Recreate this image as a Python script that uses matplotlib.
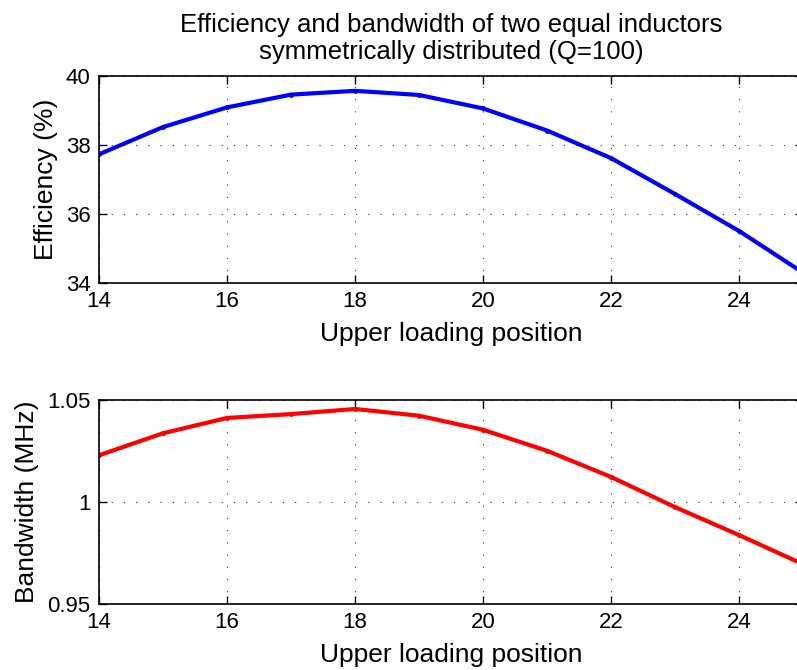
import matplotlib
matplotlib.use("Agg")
import matplotlib.pyplot as plt

plt.rcParams['font.family'] = ['Liberation Sans', 'DejaVu Sans']

# Upper loading position (x) and measured results
position = [14, 15, 16, 17, 18, 19, 20, 21, 22, 23, 24, 25]
efficiency = [37.73, 38.52, 39.09, 39.46, 39.57, 39.45, 39.06, 38.42,
              37.62, 36.58, 35.51, 34.30]
bandwidth = [1.0229, 1.0337, 1.0412, 1.0431, 1.0456, 1.0423, 1.0354, 1.0251,
             1.0123, 0.9975, 0.9838, 0.9695]

x_ticks = [14, 16, 18, 20, 22, 24]
eff_ticks = [34, 36, 38, 40]
eff_labels = ['34', '36', '38', '40']
bw_ticks = [0.95, 1.0, 1.05]
bw_labels = ['0.95', '1', '1.05']

title = 'Efficiency and bandwidth of two equal inductors\nsymmetrically distributed (Q=100)'
xlabel = 'Upper loading position'

W, H = 797, 670
fig = plt.figure(figsize=(W / 100, H / 100), dpi=100)

left = 99 / W
width = 704 / W
ax1 = fig.add_axes([left, (H - 283) / H, width, 207 / H])
ax2 = fig.add_axes([left, (H - 604) / H, width, 204 / H])


def style(ax, yticks, ylabels, ylim, ylabel):
    ax.set_xlim(14, 25)
    ax.set_ylim(*ylim)
    ax.set_xticks(x_ticks)
    ax.set_xticklabels([str(t) for t in x_ticks])
    ax.set_yticks(yticks)
    ax.set_yticklabels(ylabels)
    ax.tick_params(direction='in', length=6, width=1, top=True, right=True,
                   labelsize=16, pad=6, colors='black')
    ax.grid(True, linestyle=(0, (1, 10)), color='#333333', linewidth=0.8)
    for s in ax.spines.values():
        s.set_linewidth(1.2)
    ax.set_xlabel(xlabel, fontsize=19, labelpad=7)
    ax.set_ylabel(ylabel, fontsize=19, labelpad=6)


ax1.plot(position, efficiency, color='#0000ff', linewidth=3, marker='.',
         markersize=5, clip_on=True)
style(ax1, eff_ticks, eff_labels, (34, 40), 'Efficiency (%)')
ax1.set_title(title, fontsize=18.5, pad=12, x=0.5)

ax2.plot(position, bandwidth, color='#ff0000', linewidth=3, marker='.',
         markersize=5, clip_on=True)
style(ax2, bw_ticks, bw_labels, (0.95, 1.05), 'Bandwidth (MHz)')

fig.savefig('out.png', dpi=100)
